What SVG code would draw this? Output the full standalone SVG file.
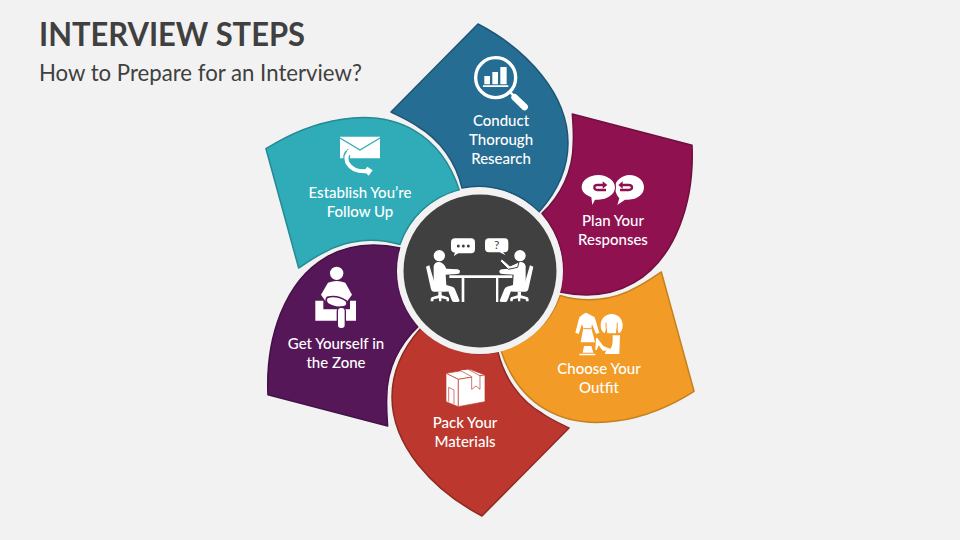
<svg xmlns="http://www.w3.org/2000/svg" width="960" height="540" viewBox="0 0 960 540">
<style>
text{font-family:"Lato","Liberation Sans",sans-serif}
.t{font-size:15px;font-weight:500;fill:#fff;text-anchor:middle}
.p{stroke-width:1.5;stroke-linejoin:round}
.w{fill:#fff}
</style>
<defs>
<path id="petal" d="M478,24 C528,50 568,95 568,143 C568,170 556,193 539,212 A84,84 0 0 0 462,188 C456,163 441,140 417,126 C408,120 399,116 391,112 Z"/>
<g id="person" fill="#fff">
<circle cx="133" cy="197" r="17"/>
<path d="M116,228 Q120,214 134,216 Q146,218 154,236 L188,238 Q196,240 195,246 Q194,252 186,252 L152,254 L154,285 L172,290 Q178,292 180,298 L194,332 Q194,336 186,336 L176,336 Q172,336 170,330 L160,304 L130,300 Q118,298 116,284 Z"/>
<path d="M93,230 L103,226 L122,290 L150,291 Q164,292 164,298 Q164,305 152,305 L116,305 Q110,305 108,298 Z"/>
<path d="M130,305 H140 V316 L160,322 Q164,325 162,334 L155,334 L154,328 L139,325 L139,334 L132,334 L132,325 L116,328 L115,334 L107,334 Q106,325 110,322 L130,316 Z"/>
</g>
</defs>
<rect width="960" height="540" fill="#f2f2f2"/>
<g id="title">
<text x="39" y="46" font-size="33" font-weight="700" fill="#404040" textLength="266" lengthAdjust="spacingAndGlyphs">INTERVIEW STEPS</text>
<text x="39" y="81" font-size="22.200" fill="#404040">How to Prepare for an Interview?</text>
</g>
<g id="connectors"></g>
<g id="node-research">
<use href="#petal" class="p" fill="#266D94" stroke="#1d5676"/>
<g transform="translate(380,10) scale(.3333)">
<circle cx="347" cy="203" r="60" fill="none" stroke="#fff" stroke-width="10"/>
<path class="w" d="M313,198 H330 V223 H313Z M337,186 H354 V223 H337Z M361,171 H380 V223 H361Z M309,226 H385 V231 H309Z"/>
<path d="M392,248 L410,266" stroke="#fff" stroke-width="8"/>
<path d="M404,262 L434,291" stroke="#fff" stroke-width="20" stroke-linecap="round"/>
</g>
<text class="t" x="501" y="126">Conduct</text>
<text class="t" x="501" y="145">Thorough</text>
<text class="t" x="501" y="164">Research</text>
</g>
<g id="node-responses">
<use href="#petal" class="p" fill="#8F1150" stroke="#701040" transform="rotate(60 480 270)"/>
<g transform="translate(560,165) scale(.3333)">
<path class="w" d="M165,67 C165,45 190,30 207,30 C235,30 252,47 252,67 C252,88 232,104 205,104 L195,104 L172,120 L178,100 C170,92 165,80 165,67Z"/>
<path class="w" d="M65,67 C65,45 88,30 115,30 C142,30 165,47 165,67 C165,88 142,104 115,104 L105,104 L97,120 L94,97 C76,90 65,80 65,67Z" stroke="#8F1150" stroke-width="6" paint-order="stroke"/>
<path d="M130,60 H112 Q103,60 103,67 Q103,75 112,75 H138" fill="none" stroke="#8F1150" stroke-width="7"/>
<path d="M128,49 L142,60 L128,71Z" fill="#8F1150"/>
<path d="M186,60 H206 Q216,60 216,67 Q216,75 206,75 H180" fill="none" stroke="#8F1150" stroke-width="7"/>
<path d="M188,49 L175,60 L188,71Z" fill="#8F1150"/>
</g>
<text class="t" x="613" y="226">Plan Your</text>
<text class="t" x="613" y="245">Responses</text>
</g>
<g id="node-outfit">
<use href="#petal" class="p" fill="#F29B26" stroke="#c67f1e" transform="rotate(120 480 270)"/>
<g transform="translate(560,300) scale(.3333)">
<path class="w" d="M70,42 L78,38 L86,42 L104,52 L118,98 L108,102 L96,72 L94,84 L105,127 L62,127 L70,84 L66,72 L56,102 L46,98 L58,52Z"/>
<path d="M70,86 H94" stroke="#F29B26" stroke-width="3"/>
<path class="w" d="M68,158 L72,138 H94 L100,158Z M58,161 H106 V166 H58Z"/>
<path class="w" d="M155,42 C175,42 188,58 188,75 C188,88 184,98 176,100 L170,84 L168,100 H142 L140,84 L134,100 C126,96 122,88 122,75 C122,58 135,42 155,42Z"/>
<path d="M138,68 L139,96 M172,68 L171,96" fill="none" stroke="#F29B26" stroke-width="3"/>
<path class="w" d="M108,114 L112,114 L130,138 L150,146 L150,152 L128,152 L116,136 L110,150 L106,150Z"/>
<path class="w" d="M158,106 H180 L178,162 H135 Q135,152 150,148 Q160,140 158,106Z"/>
</g>
<text class="t" x="599" y="374">Choose Your</text>
<text class="t" x="599" y="393">Outfit</text>
</g>
<g id="node-materials">
<use href="#petal" class="p" fill="#BC372D" stroke="#8f2a23" transform="rotate(180 480 270)"/>
<g transform="translate(380,260) scale(.3333)" stroke="#BC372D" stroke-width="2" stroke-linejoin="round">
<path class="w" d="M198,340 L270,328 L315,345 L235,358Z"/>
<path class="w" d="M198,340 L235,358 L235,440 L198,425Z"/>
<path class="w" d="M235,358 L315,345 V425 L235,440Z"/>
<path d="M240,331 L275,350 V388 L288,378 L300,388 V347 L266,329" fill="#fff"/>
<path d="M206,425 V382 L222,390 V432" fill="none"/>
</g>
<text class="t" x="465" y="428">Pack Your</text>
<text class="t" x="465" y="447">Materials</text>
</g>
<g id="node-zone">
<use href="#petal" class="p" fill="#561759" stroke="#441246" transform="rotate(240 480 270)"/>
<g transform="translate(300,260) scale(.3333)">
<circle class="w" cx="110" cy="40" r="20"/>
<path class="w" d="M46,122 H70 V148 H150 V122 H168 V182 H46Z"/>
<path class="w" d="M84,68 Q110,58 136,68 L156,104 L138,128 L80,128 L63,104Z"/>
<path d="M82,112 Q110,104 138,122 Q146,134 134,140 Q105,146 84,132 Q74,122 82,112Z" fill="#fff" stroke="#561759" stroke-width="5"/>
<rect x="112" y="142" width="24" height="64" rx="11" fill="#fff" stroke="#561759" stroke-width="4"/>
</g>
<text class="t" x="336" y="349">Get Yourself in</text>
<text class="t" x="336" y="368">the Zone</text>
</g>
<g id="node-followup">
<use href="#petal" class="p" fill="#2FACB8" stroke="#258a94" transform="rotate(300 480 270)"/>
<g transform="translate(250,110) scale(.3333)">
<path class="w" d="M270,80 H390 V145 H270Z"/>
<path d="M270,84 L330,120 L390,84" fill="none" stroke="#2FACB8" stroke-width="4"/>
<path d="M300,124 Q284,136 292,158 Q308,186 350,184" fill="none" stroke="#2FACB8" stroke-width="20"/>
<path d="M300,124 Q284,136 292,158 Q308,186 350,184" fill="none" stroke="#fff" stroke-width="12"/>
<path class="w" d="M290,122 L304,113 L318,132 L304,142Z M342,182 L352,170 L368,181 L356,197Z"/>
</g>
<text class="t" x="360" y="198">Establish You’re</text>
<text class="t" x="360" y="217">Follow Up</text>
</g>
<g id="node-center">
<circle cx="480" cy="271" r="83" fill="#f2f2f2"/>
<circle cx="480" cy="271" r="76.500" fill="#404040"/>
<g transform="translate(395,190) scale(.3333)">
<path class="w" d="M163,256 H352 V264 H310 V336 H303 V264 H208 V336 H200 V264 H163Z"/>
<use href="#person"/>
<use href="#person" transform="translate(508,0) scale(-1,1)"/>
<path d="M372,216 L345,228 L320,206 L316,214 L340,238 L368,232Z" fill="#fff" stroke="#404040" stroke-width="3"/>
<path class="w" d="M180,145 H228 Q240,145 240,157 V178 Q240,190 228,190 H190 L176,198 L180,188 Q168,186 168,176 V157 Q168,145 180,145Z"/>
<circle cx="190" cy="168" r="4.500" fill="#404040"/><circle cx="205" cy="168" r="4.500" fill="#404040"/><circle cx="220" cy="168" r="4.500" fill="#404040"/>
<path class="w" d="M282,145 H330 Q340,145 340,157 V175 Q340,187 328,187 L324,187 L332,196 L314,187 H282 Q270,187 270,175 V157 Q270,145 282,145Z"/>
<text x="305" y="178" font-size="36" fill="#404040" text-anchor="middle">?</text>
</g>
</g>
</svg>
